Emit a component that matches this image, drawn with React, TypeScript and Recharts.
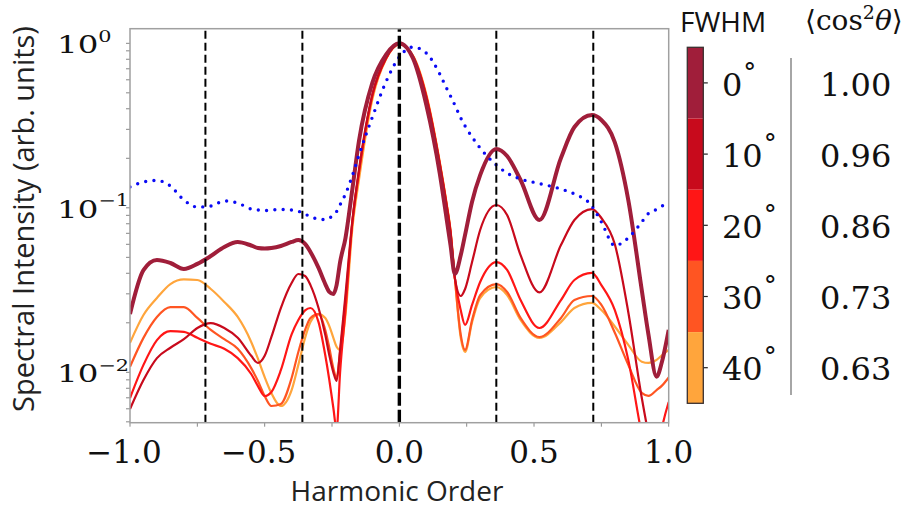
import React from "react";
import { LineChart, Line, XAxis, YAxis, ReferenceLine } from "recharts";

// Harmonic order (x) sample positions shared by all spectra
const harmonicOrder = [
  -1, -0.95, -0.9, -0.85, -0.8, -0.75, -0.7, -0.65, -0.6, -0.55, -0.525, -0.5, -0.475, -0.44,
  -0.4, -0.375, -0.35, -0.33, -0.3, -0.275, -0.26, -0.245, -0.233, -0.22, -0.2, -0.175, -0.15,
  -0.1, -0.05, 0, 0.05, 0.1, 0.15, 0.175, 0.19, 0.206, 0.228, 0.244, 0.27, 0.3, 0.36, 0.4, 0.45,
  0.52, 0.6, 0.65, 0.715, 0.75, 0.8, 0.85, 0.9, 0.925, 0.955, 0.975, 1,
];

// Spectral intensity for each alignment FWHM
const fwhm0 = [
  0.0226, 0.0418, 0.0482, 0.0462, 0.0425, 0.0456, 0.0509, 0.0578, 0.062, 0.059, 0.057, 0.0566, 0.057, 0.0586,
  0.062, 0.0637, 0.0603, 0.0539, 0.0431, 0.0344, 0.0308, 0.0299, 0.0339, 0.0468, 0.0655, 0.128, 0.2545,
  0.577, 0.852, 1.0, 0.814, 0.4226, 0.162, 0.0869, 0.0592, 0.0396, 0.0516, 0.0685, 0.109, 0.158, 0.2277, 0.2064, 0.1476,
  0.0843, 0.2008, 0.3099, 0.3664, 0.3418, 0.25, 0.1115, 0.0316, 0.0169, 0.0094, 0.0116, 0.0181,
];
const fwhm10 = [
  0.00598, 0.00898, 0.0122, 0.0141, 0.0159, 0.0186, 0.0199, 0.0186, 0.0162, 0.0126, 0.0114, 0.0126, 0.0164, 0.0246,
  0.0349, 0.0396, 0.0385, 0.0339, 0.0246, 0.0169, 0.0127, 0.01, 0.00886, 0.0137, 0.0296, 0.082, 0.17,
  0.49, 0.81, 0.995, 0.83, 0.47, 0.185, 0.1055, 0.0713, 0.0375, 0.0291, 0.0321, 0.0468, 0.0733, 0.104, 0.0904, 0.0516,
  0.0306, 0.0594, 0.0843, 0.0983, 0.0867, 0.06, 0.0232, 0.007, 0.0042, 0.0025, 0.0025, 0.0035,
];
const fwhm20 = [
  0.00698, 0.0111, 0.0157, 0.0178, 0.0176, 0.0162, 0.0149, 0.0139, 0.0122, 0.00977, 0.00825, 0.00718, 0.0076, 0.0103,
  0.017, 0.0208, 0.0238, 0.0246, 0.0202, 0.0127, 0.00898, 0.00607, 0.0045, 0.01, 0.0239, 0.08, 0.165,
  0.485, 0.81, 0.99, 0.835, 0.475, 0.183, 0.103, 0.07, 0.0375, 0.0238, 0.0194, 0.0257, 0.0354, 0.0468, 0.0419, 0.0275,
  0.0186, 0.0275, 0.0364, 0.0402, 0.0339, 0.0239, 0.0119, 0.0042, 0.0028, 0.003, 0.0046, 0.0066,
];
const fwhm30 = [
  0.0108, 0.0162, 0.0217, 0.0249, 0.0249, 0.0214, 0.0181, 0.0159, 0.0139, 0.0106, 0.00886, 0.00718, 0.00624, 0.00642,
  0.00923, 0.0133, 0.0181, 0.0214, 0.0226, 0.0181, 0.0141, 0.0106, 0.0092, 0.0133, 0.0275, 0.08, 0.163,
  0.48, 0.805, 0.99, 0.84, 0.48, 0.188, 0.106, 0.072, 0.0375, 0.0169, 0.0137, 0.0208, 0.0295, 0.0344, 0.0308, 0.0214,
  0.0164, 0.0214, 0.0275, 0.0291, 0.0257, 0.0174, 0.0111, 0.0075, 0.0072, 0.0078, 0.0083, 0.0093,
];
const fwhm40 = [
  0.0151, 0.0223, 0.0283, 0.0344, 0.0367, 0.0364, 0.0321, 0.0268, 0.0217, 0.0153, 0.0121, 0.00936, 0.00748, 0.00624,
  0.0078, 0.0111, 0.0162, 0.0202, 0.0226, 0.0214, 0.0191, 0.0162, 0.0143, 0.0137, 0.0223, 0.0735, 0.148,
  0.459, 0.797, 0.985, 0.845, 0.49, 0.19, 0.108, 0.073, 0.0375, 0.0162, 0.0133, 0.0202, 0.0283, 0.033, 0.0295, 0.0208,
  0.0162, 0.0202, 0.0246, 0.0264, 0.0239, 0.019, 0.0147, 0.0116, 0.0114, 0.0119, 0.0127, 0.0137,
];
// Dotted blue spectrum
const dottedSpectrum = [
  0.134, 0.1435, 0.1466, 0.1357, 0.1115, 0.1011, 0.1025, 0.11, 0.1069, 0.0983, 0.097, 0.0963, 0.097, 0.0976,
  0.097, 0.0953, 0.0917, 0.0881, 0.0855, 0.0849, 0.0866, 0.0904, 0.0949, 0.1044, 0.1213, 0.156, 0.2094,
  0.3565, 0.5816, 0.8255, 0.9495, 0.873, 0.6508, 0.5349, 0.478, 0.4215, 0.3514, 0.3143, 0.2694, 0.2309, 0.182, 0.1627, 0.1496,
  0.1405, 0.1301, 0.1213, 0.1025, 0.082, 0.059, 0.0656, 0.082, 0.0924, 0.0978, 0.1025, 0.107,
];

const fwhmLabels = ["0", "10", "20", "30", "40"];
const cosSquaredLabels = ["1.00", "0.96", "0.86", "0.73", "0.63"];
const fwhmColors = ["#A01E3A", "#C80A1C", "#FF1616", "#FF5522", "#FFA53C"];
const fwhmSeries = [fwhm0, fwhm10, fwhm20, fwhm30, fwhm40];

const harmonicMarkers = [-0.72, -0.36, 0, 0.36, 0.72];
const xTicks = [-1, -0.75, -0.5, -0.25, 0, 0.25, 0.5, 0.75, 1];
const xMajorTicks = [-1, -0.5, 0, 0.5, 1];
const xTickLabels = ["\u22121.0", "\u22120.5", "0.0", "0.5", "1.0"];
const yDecades = [0.01, 0.1, 1];
const yDecadeExponents = ["\u22122", "\u22121", "0"];
const yTicks = [
  0.005, 0.006, 0.007, 0.008, 0.009, 0.01, 0.02, 0.03, 0.04, 0.05, 0.06, 0.07, 0.08, 0.09,
  0.1, 0.2, 0.3, 0.4, 0.5, 0.6, 0.7, 0.8, 0.9, 1,
];

const rows = harmonicOrder.map((h, i) => {
  const row: Record<string, number> = { h, dotted: dottedSpectrum[i] };
  fwhmSeries.forEach((s, k) => {
    row["f" + k] = s[i];
  });
  return row;
});

const W = 910;
const H = 508;
const PLOT_LEFT = 130;
const PLOT_RIGHT = 668.7;
const PLOT_TOP = 28.7;
const PLOT_BOTTOM = 422.7;
const X_AXIS_H = 50;

const SERIF = "'DejaVu Serif', serif";
const SANS = "'Open Sans', sans-serif";

// Decade labels 10^k, left-aligned and drawn slightly wide
const YTick = (props: any) => {
  const { y, payload } = props;
  const k = yDecades.indexOf(payload.value);
  if (k < 0) return <g />;
  return (
    <g transform={`translate(57 ${y}) scale(1.3 1)`}>
      <text x={0} y={10} fontFamily={SERIF} fontSize={25} fill="#111">
        10
        <tspan dy={-11.6} fontSize={16}>
          {yDecadeExponents[k]}
        </tspan>
      </text>
    </g>
  );
};

const XTick = (props: any) => {
  const { x, y, payload } = props;
  const k = xMajorTicks.indexOf(payload.value);
  if (k < 0) return <g />;
  const shift = payload.value < 0 ? -6 : 0;
  return (
    <text x={x + shift} y={y + 34} textAnchor="middle" fontFamily={SERIF} fontSize={31} fill="#111">
      {xTickLabels[k]}
    </text>
  );
};

function ColorBar() {
  const x0 = 687.3;
  const w = 16;
  const top = 47.3;
  const bottom = 403.3;
  const seg = (bottom - top) / fwhmLabels.length;
  return (
    <svg
      width={W}
      height={H}
      style={{ position: "absolute", left: 0, top: 0, pointerEvents: "none" }}
    >
      <text x={680} y={31.7} fontFamily={SANS} fontSize={28} fill="#111">
        FWHM
      </text>
      <text x={805} y={30} fontFamily={SERIF} fontSize={28} fill="#111">
        {"\u27E8cos"}
        <tspan dy={-11} fontSize={19}>
          2
        </tspan>
        <tspan dy={11} fontStyle="italic">
          {"\u03B8"}
        </tspan>
        {"\u27E9"}
      </text>
      {fwhmLabels.map((lab, i) => {
        const cy = top + seg * (i + 0.5);
        return (
          <g key={lab}>
            <rect x={x0} y={top + seg * i} width={w} height={seg} fill={fwhmColors[i]} />
            <line x1={x0 + w} x2={x0 + w + 4.5} y1={cy} y2={cy} stroke="#222" strokeWidth={1.2} />
            <text x={722} y={cy + 12.6} fontFamily={SERIF} fontSize={32} fill="#111">
              {lab}
              <tspan dx={1} dy={-15} fontSize={26}>
                {"\u00B0"}
              </tspan>
            </text>
            <text x={820} y={cy + 12.6} fontFamily={SERIF} fontSize={32} fill="#111">
              {cosSquaredLabels[i]}
            </text>
          </g>
        );
      })}
      <rect x={x0} y={top} width={w} height={bottom - top} fill="none" stroke="#3a3030" strokeWidth={1.3} />
      <line x1={791} x2={791} y1={58} y2={395} stroke="#888" strokeWidth={1.5} />
    </svg>
  );
}

export default function App() {
  return (
    <div style={{ position: "absolute", left: 0, top: 0, width: W, height: H, background: "#fff" }}>
      <LineChart
        width={W}
        height={H}
        data={rows}
        margin={{ top: PLOT_TOP, right: W - PLOT_RIGHT, bottom: H - PLOT_BOTTOM - X_AXIS_H, left: 0 }}
      >
        <XAxis
          dataKey="h"
          type="number"
          domain={[-1, 1]}
          ticks={xTicks}
          allowDataOverflow
          height={X_AXIS_H}
          tick={XTick}
          tickSize={4}
          tickMargin={2}
          tickLine={{ stroke: "#888" }}
          axisLine={false}
          interval={0}
        />
        <YAxis
          scale="log"
          type="number"
          domain={[0.00494, 1.227]}
          allowDataOverflow
          ticks={yTicks}
          interval={0}
          width={PLOT_LEFT}
          tick={YTick}
          tickSize={4}
          tickMargin={10}
          tickLine={{ stroke: "#888" }}
          axisLine={false}
        />
        {[4, 3, 2, 1, 0].map((k) => (
          <Line
            key={k}
            type="monotone"
            dataKey={"f" + k}
            stroke={fwhmColors[k]}
            strokeWidth={k === 0 ? 4 : 2.2}
            dot={false}
            activeDot={false}
            isAnimationActive={false}
          />
        ))}
        <Line
          type="monotone"
          dataKey="dotted"
          stroke="#0a0af5"
          strokeWidth={3.4}
          strokeDasharray="0 8.3"
          strokeLinecap="round"
          dot={false}
          activeDot={false}
          isAnimationActive={false}
        />
        {harmonicMarkers.map((m) => (
          <ReferenceLine
            key={m}
            x={m}
            stroke="#000"
            strokeWidth={m === 0 ? 3.4 : 2}
            strokeDasharray={m === 0 ? "13 4" : "8 4"}
          />
        ))}
      </LineChart>
      <svg
        width={W}
        height={H}
        style={{ position: "absolute", left: 0, top: 0, pointerEvents: "none" }}
      >
        <rect
          x={PLOT_LEFT}
          y={PLOT_TOP}
          width={PLOT_RIGHT - PLOT_LEFT}
          height={PLOT_BOTTOM - PLOT_TOP}
          fill="none"
          stroke="#a0a0a0"
          strokeWidth={1.5}
        />
        <text
          x={34}
          y={219}
          transform="rotate(-90 34 219)"
          textAnchor="middle"
          fontFamily={SANS}
          fontSize={29}
          fill="#222"
        >
          Spectral Intensity (arb. units)
        </text>
        <text x={397} y={501} textAnchor="middle" fontFamily={SANS} fontSize={28} fill="#222">
          Harmonic Order
        </text>
      </svg>
      <ColorBar />
    </div>
  );
}
